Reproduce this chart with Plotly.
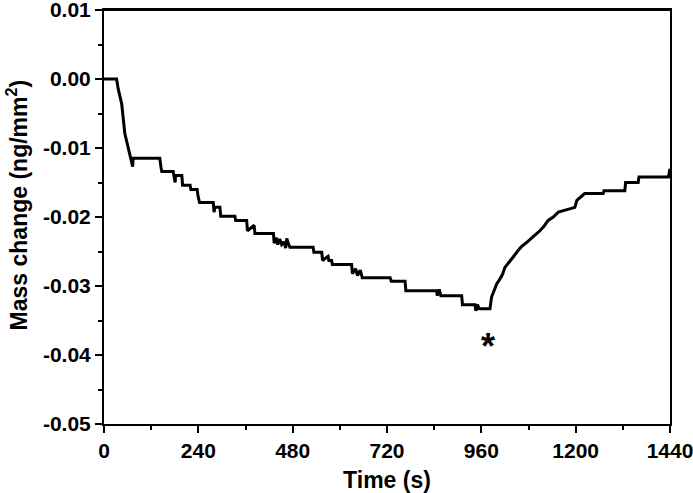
import plotly.graph_objects as go

# time (s) and mass change (ng/mm^2)
time_s = [
    0, 32, 36, 45, 53, 66, 70, 73, 74, 142, 145, 147, 176, 178, 181, 182, 198, 200,
    219, 221, 237, 239, 241, 243, 278, 280, 282, 295, 297, 333, 335, 363, 365, 382,
    384, 431, 433, 438, 442, 447, 452, 458, 462, 465, 470, 473, 532, 534, 554, 556,
    570, 572, 579, 581, 630, 632, 640, 645, 652, 657, 728, 731, 766, 768, 846, 848,
    853, 857, 910, 912, 944, 946, 950, 955, 982, 986, 993, 999, 1007, 1014, 1020,
    1030, 1041, 1053, 1062, 1075, 1084, 1097, 1109, 1120, 1130, 1143, 1156, 1198,
    1203, 1210, 1223, 1270, 1272, 1325, 1327, 1359, 1361, 1436, 1440,
]
mass_change = [
    0.0, 0.0, -0.0014, -0.0036, -0.0079, -0.0113, -0.0120, -0.0127, -0.0115,
    -0.0115, -0.0128, -0.0134, -0.0134, -0.0140, -0.0150, -0.0140, -0.0140,
    -0.0154, -0.0154, -0.0160, -0.0160, -0.0169, -0.0176, -0.0179, -0.0179,
    -0.0193, -0.0186, -0.0186, -0.0199, -0.0199, -0.0205, -0.0205, -0.0220,
    -0.0212, -0.0224, -0.0224, -0.0238, -0.0230, -0.0240, -0.0232, -0.0240,
    -0.0236, -0.0245, -0.0231, -0.0240, -0.0244, -0.0244, -0.0251, -0.0251,
    -0.0263, -0.0257, -0.0263, -0.0263, -0.0269, -0.0269, -0.0282, -0.0275,
    -0.0285, -0.0277, -0.0288, -0.0288, -0.0293, -0.0293, -0.0307, -0.0307,
    -0.0314, -0.0305, -0.0314, -0.0314, -0.0327, -0.0327, -0.0336, -0.0327,
    -0.0333, -0.0333, -0.0316, -0.0306, -0.0297, -0.0290, -0.0283, -0.0273,
    -0.0265, -0.0258, -0.0249, -0.0243, -0.0237, -0.0232, -0.0226, -0.0220,
    -0.0213, -0.0205, -0.0200, -0.0193, -0.0186, -0.0176, -0.0172, -0.0166,
    -0.0166, -0.0162, -0.0162, -0.0150, -0.0150, -0.0142, -0.0142, -0.0130,
]

x_ticks = [0, 240, 480, 720, 960, 1200, 1440]
y_ticks = [0.01, 0.0, -0.01, -0.02, -0.03, -0.04, -0.05]
y_tick_text = ["0.01", "0.00", "-0.01", "-0.02", "-0.03", "-0.04", "-0.05"]

font_family = "Liberation Sans, Arial, sans-serif"

fig = go.Figure()
fig.add_trace(go.Scatter(
    x=time_s, y=mass_change, mode="lines",
    line=dict(color="black", width=3),
    showlegend=False, hoverinfo="skip",
))

# asterisk under the minimum
fig.add_annotation(
    x=976, y=-0.0388, text="<b>*</b>", showarrow=False,
    font=dict(size=36, color="black", family=font_family),
)

# y title as an annotation so it can sit a little higher, like the original
fig.add_annotation(
    xref="paper", yref="paper", x=-0.154, y=0.53,
    xanchor="center", yanchor="middle", textangle=-90, showarrow=False,
    text="<b>Mass change (ng/mm<sup>2</sup>)</b>",
    font=dict(size=23, color="black", family=font_family),
)

# top frame line
fig.add_shape(type="line", xref="paper", yref="paper", x0=0, x1=1, y0=1, y1=1,
              line=dict(color="black", width=2))

axis_common = dict(
    showline=True, linecolor="black", linewidth=2, mirror=True,
    ticks="outside", ticklen=7, tickwidth=2, tickcolor="black",
    showgrid=False, zeroline=False, automargin=False,
    ticklabeloverflow="allow",
    tickfont=dict(size=21, color="black", family=font_family),
)

fig.update_xaxes(
    range=[0, 1440], tickvals=x_ticks,
    ticktext=[f"<b>{t}</b>" for t in x_ticks],
    minor=dict(ticks="outside", ticklen=4, tickwidth=2, tickcolor="black", dtick=120),
    title=dict(text="<b>Time (s)</b>", font=dict(size=23, color="black", family=font_family),
               standoff=12),
    **axis_common,
)
fig.update_yaxes(
    range=[-0.05, 0.01], tickvals=y_ticks,
    ticktext=[f"<b>{t}</b>" for t in y_tick_text],
    minor=dict(ticks="outside", ticklen=4, tickwidth=2, tickcolor="black", dtick=0.005),
    **axis_common,
)

fig.update_layout(
    width=693, height=493,
    margin=dict(l=104, r=23, t=10, b=69),
    plot_bgcolor="white", paper_bgcolor="white",
)

fig.write_html("out.html", config={"displayModeBar": False},
               post_script="document.body.style.margin='0';")
